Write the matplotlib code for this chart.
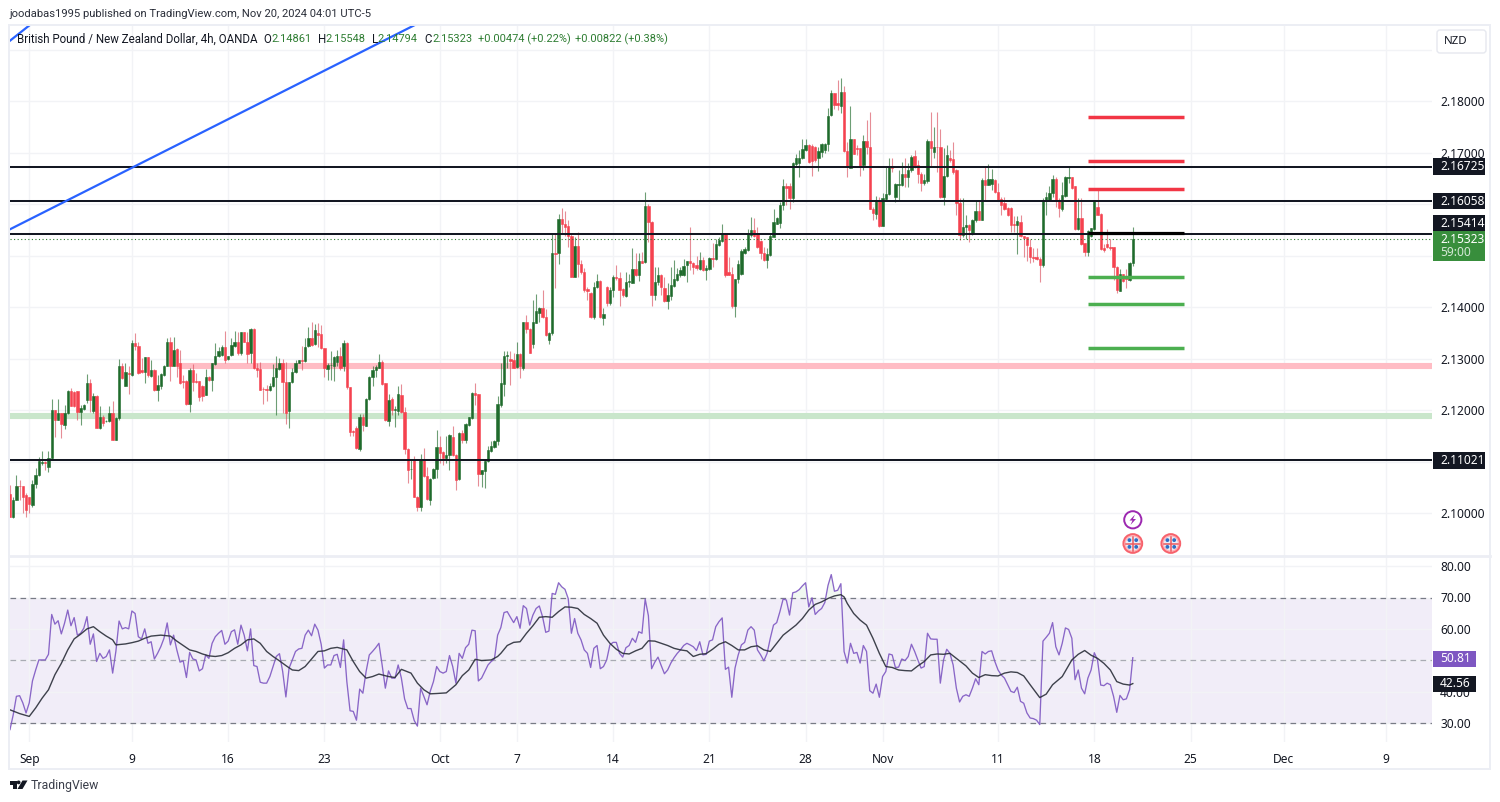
import numpy as np
import matplotlib
matplotlib.use('Agg')
import matplotlib.pyplot as plt
from matplotlib.patches import Rectangle, Circle, Polygon, FancyBboxPatch

plt.rcParams['font.family'] = ['Noto Sans', 'DejaVu Sans']
HEAD_FONT = ['Roboto', 'DejaVu Sans']

# candles: pips above 2.1000
opens_pips = [
37,-7,26,53,53,35,32,16,57,74,97,100,90,107,200,181,194,171,194,236,
235,236,197,202,220,252,199,228,166,187,178,178,194,142,184,285,247,272,268,330,
325,277,273,302,266,278,238,247,268,286,332,286,318,291,257,257,212,277,257,257,
247,230,264,259,290,304,307,323,299,307,325,332,310,351,333,310,358,281,279,241,
241,238,246,265,280,291,254,199,254,273,291,297,296,325,340,328,349,347,320,279,
287,286,294,305,285,331,244,160,166,124,186,169,221,264,277,282,294,252,179,221,
200,199,230,197,124,85,103,32,11,102,71,26,68,85,129,118,107,113,147,113,
66,155,142,171,184,233,231,76,81,101,121,129,139,210,251,304,299,297,283,309,
281,370,358,329,369,388,399,381,335,349,504,504,571,562,557,538,459,518,483,467,
434,428,381,439,451,378,439,408,433,459,456,434,421,449,447,473,462,490,488,596,
566,423,448,462,436,412,421,441,452,462,463,481,489,486,481,474,492,472,473,496,
494,520,529,542,467,464,401,454,464,505,511,540,549,544,529,504,492,501,536,562,
564,598,635,634,611,678,679,689,705,714,712,711,690,701,705,716,773,815,797,790,
818,703,669,727,708,708,676,723,710,591,580,606,558,609,619,672,613,637,637,658,
653,666,693,676,659,640,645,723,701,711,711,613,654,690,688,666,601,540,555,559,
542,568,587,569,647,637,639,647,624,609,601,592,592,561,559,565,537,535,517,497,
497,493,482,605,607,622,648,605,590,616,651,652,634,551,572,524,506,537,551,594,
581,514,522,517,516,478,432,464,459,453,486]
closes_pips = [
-7,26,52,52,32,5,18,57,74,101,100,97,107,200,181,194,173,194,236,208,
208,197,204,209,252,220,228,166,187,175,178,194,142,184,285,263,273,270,331,325,
272,273,302,268,278,238,249,270,286,332,285,317,285,252,254,212,278,255,254,226,
228,264,259,291,304,314,323,298,305,327,332,310,351,333,309,358,281,278,239,240,
239,247,265,281,291,254,195,255,274,291,297,296,323,340,327,356,346,320,281,287,
288,303,305,281,331,244,158,158,126,186,170,222,265,278,283,294,251,180,220,200,
201,231,197,124,84,85,32,11,102,71,27,66,86,129,116,107,113,152,113,64,
156,141,173,186,233,230,76,83,101,123,130,139,212,252,305,307,296,281,309,285,
370,357,310,370,393,399,381,346,350,504,503,571,562,556,538,459,518,483,467,433,
431,381,439,451,381,386,408,433,459,456,433,423,449,450,473,462,490,486,596,566,
423,448,462,439,412,423,443,454,464,472,480,489,486,478,475,492,472,475,496,494,
522,530,541,462,463,401,454,483,508,512,542,549,538,516,504,491,502,538,566,572,
599,634,632,611,679,689,690,706,714,682,684,685,703,716,716,771,815,792,792,818,
703,671,727,698,706,672,723,710,591,582,606,557,611,619,672,669,638,638,658,652,
666,692,672,659,641,646,723,708,711,710,613,654,695,685,663,601,540,555,559,549,
569,586,569,647,637,648,648,624,608,598,590,579,559,559,567,537,534,520,497,496,
493,482,608,613,622,648,605,592,618,653,653,632,551,572,522,506,548,553,605,579,
512,511,516,514,478,433,464,451,454,485,532]
highs_pips = [
55,32,74,64,53,39,32,65,87,109,121,101,120,222,200,221,195,210,238,243,
236,236,210,212,270,260,233,230,208,191,181,207,217,186,299,291,291,285,336,349,
333,301,303,303,297,279,268,272,288,340,342,342,320,317,268,259,281,290,272,257,
249,279,266,292,331,323,327,354,305,340,353,351,351,352,351,360,359,291,294,244,
249,252,290,305,301,299,294,255,281,297,298,325,340,361,370,367,369,365,320,291,
314,305,317,323,336,333,244,162,169,193,193,223,266,285,288,309,298,252,232,225,
207,247,250,206,126,103,110,33,115,126,90,68,87,162,149,120,149,153,168,114,
158,162,175,187,234,252,231,84,103,131,139,142,228,292,314,314,314,310,332,310,
371,385,359,414,425,400,433,397,352,543,543,580,592,587,569,543,535,545,491,475,
439,430,449,464,452,399,441,439,462,481,468,436,468,465,514,504,504,507,624,600,
567,478,478,464,458,446,478,491,475,478,494,490,556,488,499,507,498,481,498,524,
533,535,562,543,498,478,454,491,512,517,551,574,572,556,530,517,514,543,590,575,
604,648,640,640,682,697,705,727,727,716,716,712,711,718,718,786,821,816,841,844,
829,721,790,727,714,708,734,763,778,595,615,614,622,671,689,689,640,666,682,690,
679,695,705,685,663,658,727,779,749,779,745,708,714,705,721,667,611,611,579,561,
570,606,608,650,673,678,667,648,640,614,614,594,594,577,577,579,537,535,533,514,
514,498,611,624,634,656,653,611,643,654,674,653,635,612,611,525,550,554,606,627,
582,522,551,533,517,480,473,465,473,488,555]
lows_pips = [
-7,-10,26,26,0,-8,0,11,48,72,94,84,79,105,147,180,145,163,193,207,
205,181,171,200,213,197,194,165,163,169,176,176,141,141,181,260,246,231,266,317,
270,272,253,265,264,236,217,241,266,285,257,285,265,251,243,210,197,236,252,217,
217,229,257,236,288,303,305,291,298,305,323,307,307,332,291,291,279,265,238,212,
217,236,244,191,278,194,173,165,252,272,291,278,294,323,325,326,323,318,264,259,
259,257,285,278,275,241,149,149,125,121,160,168,220,247,265,281,249,178,169,191,
167,191,195,115,58,66,31,3,3,70,26,16,66,68,97,94,97,84,111,45,
65,136,136,169,182,210,53,50,48,100,119,127,132,206,228,281,249,281,281,262,
278,349,310,320,368,371,378,344,329,346,436,483,543,538,517,459,459,459,465,430,
413,378,376,436,378,365,401,404,419,452,401,420,420,439,446,460,451,485,486,527,
401,414,443,423,410,397,414,439,451,459,460,449,472,465,472,472,469,452,472,478,
492,518,527,459,462,399,380,446,462,503,509,536,535,514,494,489,475,500,536,561,
553,588,598,590,604,672,652,687,703,679,654,682,665,692,700,703,771,784,782,776,
701,653,669,697,695,654,666,698,590,569,570,556,557,608,617,663,604,608,635,633,
633,663,669,640,626,637,641,672,690,663,611,598,653,682,659,579,530,536,533,527,
540,566,568,568,605,637,627,622,607,579,588,577,546,546,503,535,498,490,485,488,
491,449,478,579,605,614,594,574,587,613,640,630,550,550,521,499,499,535,550,579,
511,506,514,511,453,427,431,449,436,451,479]

rsi_values = [
27.9,32.6,38.5,38.7,36.4,33.2,36.4,43.4,46.9,50.1,50.1,50.1,51.9,64.6,61.5,62.6,58.4,61.8,66.0,61.0,
63.6,58.0,58.6,60.2,63.9,55.1,58.4,49.6,52.2,50.6,51.2,53.3,45.9,52.8,62.5,60.0,60.4,60.0,65.7,64.9,
57.5,56.8,60.0,55.4,55.9,50.4,52.2,54.3,57.0,61.9,54.9,58.0,53.3,49.4,49.8,44.5,52.5,50.4,50.1,46.6,
47.3,51.7,50.6,55.4,57.5,58.6,59.5,55.1,56.1,59.1,59.7,55.1,61.2,58.0,53.0,60.0,48.3,48.0,43.0,42.7,
42.7,44.8,48.0,51.2,52.1,46.4,38.3,47.5,50.1,52.8,53.6,53.8,58.0,59.6,57.8,61.5,59.6,55.1,47.5,48.5,
48.5,51.5,51.9,47.7,56.5,43.2,33.9,33.7,30.9,40.8,39.5,46.4,51.7,52.8,54.0,55.4,48.5,41.1,46.6,44.3,
44.3,48.5,44.3,37.7,34.6,34.6,30.8,29.0,41.1,38.5,35.8,40.1,43.2,48.0,46.4,45.9,46.4,51.5,48.0,42.7,
52.2,50.6,54.0,55.1,59.6,59.4,43.4,44.3,46.4,48.5,49.6,50.4,58.0,60.4,65.2,65.5,63.7,62.0,63.9,60.2,
67.4,66.5,61.2,64.4,66.5,67.3,63.9,58.9,59.3,71.3,71.0,74.7,73.4,72.6,69.7,58.6,63.3,58.6,56.5,53.3,
52.2,47.7,53.8,54.7,47.3,48.0,50.1,54.9,55.7,55.7,52.2,51.0,54.0,54.7,57.0,55.7,59.1,58.6,69.5,64.2,
47.3,49.4,51.0,48.3,45.7,46.9,49.1,50.8,52.2,53.3,54.7,55.4,54.9,54.3,53.1,55.9,51.7,51.9,56.1,56.5,
60.7,62.3,63.5,47.1,47.8,38.2,47.5,51.7,54.9,55.7,59.6,60.7,59.6,53.3,51.7,49.8,52.2,57.0,61.2,62.0,
65.5,69.5,69.2,64.4,71.5,71.8,72.5,73.7,74.7,67.0,69.9,64.6,65.7,66.5,68.4,73.9,77.3,72.0,72.3,74.4,
52.8,49.1,55.4,52.2,52.5,49.1,54.7,52.8,40.3,39.5,42.4,38.2,44.8,46.4,52.0,51.7,47.7,47.8,50.4,49.9,
51.2,55.1,52.8,50.1,47.5,48.0,58.6,56.8,56.7,56.7,42.7,50.1,53.5,52.2,48.5,41.1,36.7,38.5,39.0,38.5,
41.1,44.1,42.2,52.8,52.0,52.8,53.0,49.6,46.9,45.3,44.3,42.2,40.1,39.7,41.4,36.9,36.3,33.2,31.6,31.4,
30.9,29.5,56.1,57.3,58.6,62.0,54.3,51.7,55.4,60.3,59.8,57.0,43.8,46.9,41.1,39.3,44.3,46.9,52.4,50.1,
42.1,41.9,42.7,42.2,38.5,33.4,38.8,37.4,37.7,40.6,50.81]

ma_bars = [0,3,6,8,10,12,14,16,18,20,22,24,26,28,30,32,33,36,38,40,42,44,47,50,52,54,56,58,60,62,64,66,68,70,72,74,76,78,80,82,84,86,88,90,92,94,96,98,100,102,105,107,109,111,113,115,118,120,122,125,127,129,131,133,136,139,141,143,145,147,150,152,153,
155,157,159,161,163,165,167,169,171,173,175,177,179,181,183,185,187,189,191,193,195,197,199,201,203,205,207,209,211,213,215,217,219,221,223,225,227,229,231,233,235,237,239,241,243,245,247,249,251,253,255,257,259,260,261,263,265,267,269,271,273,275,277,279,281,283,285,287,289,291,293,295,
298,300,302,304,306,308,310,312,314,316,318,320,321,323,325,328,331,333,335,337,339,341,343,345,347,349,350]
ma_values = [34.2,33.0,32.1,34.8,37.9,40.6,45.4,49.0,53.3,56.8,58.3,60.0,60.7,59.1,57.7,56.5,54.9,55.2,55.6,56.1,57.0,57.7,58.0,57.7,56.1,54.7,53.3,52.8,52.0,51.4,51.2,51.5,52.4,53.8,54.9,56.5,56.8,55.4,52.8,51.2,49.8,48.3,46.9,46.7,48.0,50.4,52.8,53.0,53.8,54.1,53.3,49.6,46.4,44.3,44.8,45.6,44.8,44.5,47.1,45.9,42.7,40.6,39.3,39.4,39.6,42.2,45.1,46.9,50.3,49.9,50.1,51.2,52.2,
54.7,55.7,55.9,58.6,61.0,63.7,63.9,63.7,65.5,67.0,66.9,66.5,64.6,63.3,61.8,58.0,55.4,53.5,52.2,52.0,53.0,53.8,56.2,56.1,55.4,54.7,53.8,53.3,53.0,51.2,51.9,52.1,53.5,55.1,55.9,54.7,53.3,53.3,54.3,54.6,53.3,52.8,55.4,58.0,59.6,61.2,63.3,66.0,67.8,68.6,69.7,70.5,70.9,70.2,68.1,64.9,62.8,61.2,57.0,52.2,48.0,47.7,46.9,46.7,46.6,48.2,49.6,51.7,52.0,51.9,52.2,50.6,
48.2,45.9,44.5,45.4,45.1,45.0,45.9,46.3,46.1,45.0,42.2,39.5,38.1,39.2,42.2,44.8,50.1,51.9,53.1,51.6,50.6,49.0,46.9,43.2,42.4,42.1,42.56]

time_tick_bars = [6,38,68,98,134,158,188,218,248,272,308,338,368,397,429]
time_tick_labels = ['Sep','9','16','23','Oct','7','14','21','28','Nov','11','18','25','Dec','9']
month_labels = {'Sep','Oct','Nov','Dec'}

price_ticks = [2.10,2.11,2.12,2.13,2.14,2.15,2.16,2.17,2.18,2.19]
price_labels = ['2.10000','','2.12000','2.13000','2.14000','','','2.17000','2.18000','']
level_prices = [2.16725,2.16058,2.15414,2.11021]
level_labels = ['2.16725','2.16058','2.15414','2.11021']
level_label_shift = [0,0,-11,0]
resistance_band = 2.12854
support_band = 2.11883
target_red = [2.1769,2.16835,2.16297]
target_green = [2.14588,2.14058,2.13198]
target_black = 2.15443
last_price = 2.15323
rsi_ticks = [30,40,50,60,70,80]
rsi_labels = ['30.00','40.00','','60.00','70.00','80.00']

INK = '#131722'
GRID = '#f2f3f6'
BORDER = '#eceef4'
UP = '#1f6b2c'
DOWN = '#f5424f'

o = 2.10 + np.array(opens_pips)/1e4
c = 2.10 + np.array(closes_pips)/1e4
h = 2.10 + np.array(highs_pips)/1e4
l = 2.10 + np.array(lows_pips)/1e4
rsi = np.array(rsi_values)
bars = np.arange(len(c))
assert len(o)==len(c)==len(h)==len(l)==len(rsi)==351 and len(ma_bars)==len(ma_values)

W, H = 1500, 802
fig = plt.figure(figsize=(W/100, H/100), dpi=100, facecolor='white')

def axes_px(x0, y0, x1, y1):
    return fig.add_axes([x0/W, 1-y1/H, (x1-x0)/W, (y1-y0)/H])

ax = axes_px(10, 25, 1432, 556)
ar = axes_px(10, 557, 1432, 742)
BAR_PX = 3.208
xlim = (0, 1422/BAR_PX)
for a in (ax, ar):
    a.set_xlim(*xlim)
    for s in a.spines.values():
        s.set_visible(False)
    a.set_axisbelow(True)
    a.set_xticks(time_tick_bars)
    a.grid(True, color=GRID, lw=1)
    a.yaxis.tick_right()

ax.set_ylim(2.18-455/5150, 2.18+76/5150)
ar.set_ylim(70-144.5/3.1375, 70+40.5/3.1375)
ax.set_yticks(price_ticks)
ax.set_yticklabels(price_labels)
ax.tick_params(axis='y', length=0, pad=5.8, labelsize=8.6, labelcolor=INK)
ax.tick_params(axis='x', length=0, labelbottom=False)
ar.set_yticks(rsi_ticks)
ar.set_yticklabels(rsi_labels)
ar.tick_params(axis='y', length=0, pad=5.8, labelsize=8.6, labelcolor=INK)
ar.set_xticklabels(time_tick_labels)
ar.tick_params(axis='x', length=0, pad=8, labelsize=8.6, labelcolor=INK)
for t in ar.get_xticklabels():
    if t.get_text() in month_labels:
        t.set_fontweight('bold')

# bands under candles
ax.axhline(resistance_band, xmin=(178-10)/1422, color='#ffbcc4', lw=4.4, zorder=1, solid_capstyle='butt')
ax.axhline(support_band, color='#c9e6cb', lw=4.4, zorder=1, solid_capstyle='butt')

# candles
up = c >= o
ax.vlines(bars[up], l[up], h[up], color=UP, lw=0.8, alpha=0.65, zorder=2)
ax.vlines(bars[~up], l[~up], h[~up], color='#d9505e', lw=0.8, alpha=0.65, zorder=2)
ax.bar(bars[up], (c-o)[up], bottom=o[up], width=0.74, color=UP, edgecolor=UP, lw=0.4, zorder=3)
ax.bar(bars[~up], (c-o)[~up], bottom=o[~up], width=0.74, color=DOWN, edgecolor=DOWN, lw=0.4, zorder=3)

# drawn levels
for p in level_prices:
    ax.axhline(p, color=INK, lw=1.45, zorder=5)
ax.axhline(last_price, color='#2e7d32', lw=0.8, ls=(0, (1, 2.2)), zorder=4)

seg = (336, 366)
for p in target_red:
    ax.hlines(p, *seg, color='#f23645', lw=2.5, zorder=6)
for p in target_green:
    ax.hlines(p, *seg, color='#4caf50', lw=2.5, zorder=6)
ax.hlines(target_black, *seg, color='#000000', lw=2.3, zorder=6)

# trend lines (bar index, price)
ax.plot([0, 126.2], [2.15509, 2.19476], color='#2962ff', lw=1.6, zorder=6)
ax.plot([0, 6.2], [2.19171, 2.19476], color='#2962ff', lw=1.6, zorder=6)

# RSI pane
ar.axhspan(30, 70, color='#7e57c2', alpha=0.1, lw=0, zorder=0.5)
for v, col in ((70, '#787b86'), (30, '#787b86'), (50, '#a9abb3')):
    ar.axhline(v, color=col, lw=0.9, ls=(0, (4.5, 3.5)), zorder=1.5)
ar.fill_between(bars, 70, rsi, where=rsi > 70, interpolate=True, color='#4caf50', alpha=0.08, lw=0)
ar.fill_between(bars, 30, rsi, where=rsi < 30, interpolate=True, color='#f23645', alpha=0.08, lw=0)
ar.plot(bars, rsi, color='#7e57c2', lw=0.95, alpha=0.9, zorder=3)
ar.plot(ma_bars, ma_values, color='#2a2e39', lw=1.0, alpha=0.9, zorder=4)

# overlay in pixel coordinates for the TradingView chrome
ov = fig.add_axes([0, 0, 1, 1], facecolor='none')
ov.set_xlim(0, W)
ov.set_ylim(H, 0)
ov.axis('off')

def box(x0, y0, x1, y1, col):
    ov.add_patch(Rectangle((x0, y0), x1-x0, y1-y0, fc=col, ec='none', zorder=10))

# frame
for (x0, y0, x1, y1) in [(9, 25, 1490, 25), (9, 25, 9, 769), (1490, 25, 1490, 769), (9, 769, 1490, 769)]:
    ov.plot([x0, x1], [y0, y1], color=BORDER, lw=1.4, zorder=9)
ov.plot([9, 1490], [556, 556], color=BORDER, lw=2, zorder=9)

ov.text(9.5, 14, 'joodabas1995 published on TradingView.com, Nov 20, 2024 04:01 UTC-5',
        fontsize=8.15, color='#2a2e39', va='center', ha='left', family=HEAD_FONT)

# legend row
LF = 8.3
LV = 7.9
ov.text(17, 39.5, 'British Pound / New Zealand Dollar, 4h, OANDA', fontsize=LF, color=INK, va='center', family=HEAD_FONT)
LEG_G = '#2e7d32'
for x, lab, vx, val in [(263, 'O', 271, '2.14861'), (318, 'H', 325, '2.15548'), (372, 'L', 377.5, '2.14794'), (424, 'C', 432, '2.15323')]:
    ov.text(x, 39.5, lab, fontsize=LF, color=INK, va='center', family=HEAD_FONT)
    ov.text(vx, 39.5, val, fontsize=LV, color=LEG_G, va='center', family=HEAD_FONT)
ov.text(478, 39.5, '+0.00474 (+0.22%)', fontsize=LV, color=LEG_G, va='center', family=HEAD_FONT)
ov.text(575, 39.5, '+0.00822 (+0.38%)', fontsize=LV, color=LEG_G, va='center', family=HEAD_FONT)

# price labels
def px_of_price(p):
    return 101 + (2.18-p)*5150
for p, s, dy in zip(level_prices, level_labels, level_label_shift):
    y = px_of_price(p) + dy
    box(1433, y-8.3, 1485, y+8.3, INK)
    ov.text(1440, y, s, fontsize=8.6, color='white', va='center', zorder=11)
box(1433, 231, 1485, 261, '#388e3c')
ov.text(1440, 239.5, '2.15323', fontsize=8.6, color='white', va='center', zorder=11)
ov.text(1440, 253, '59:00', fontsize=8.6, color='#d5e8d6', va='center', zorder=11)

# NZD button
ov.add_patch(FancyBboxPatch((1437, 30), 49, 23, boxstyle='round,pad=0,rounding_size=3', fc='white', ec='#e6e8ef', lw=1, zorder=10))
ov.text(1444, 42, 'NZD', fontsize=8.3, color=INK, va='center', zorder=11)

# RSI labels
box(1433, 650.5, 1476, 666.5, '#7e57c2')
ov.text(1440, 658.5, '50.81', fontsize=8.6, color='white', va='center', zorder=11)
box(1433, 675.5, 1476, 691.5, INK)
ov.text(1440, 683.5, '42.56', fontsize=8.6, color='white', va='center', zorder=11)

# event icons
ov.add_patch(Circle((1132.8, 519.8), 8.6, fc='white', ec='#9c27b0', lw=1.4, zorder=10))
ov.add_patch(Polygon([(1135, 514.5), (1129.5, 520.5), (1132.5, 520.5), (1130.5, 525), (1136, 519), (1133, 519)], fc='#9c27b0', ec='none', zorder=11))
for cx in (1132.8, 1170.8):
    cy = 543.5
    ov.add_patch(Circle((cx, cy), 9.4, fc='#ffb3b8', ec='#f7626c', lw=1.4, zorder=10))
    ov.add_patch(Circle((cx, cy), 7, fc='#e8eef8', ec='none', zorder=11))
    for dx, dy in [(-3.4, -3.4), (3.4, -3.4), (-3.4, 3.4), (3.4, 3.4)]:
        ov.add_patch(Circle((cx+dx, cy+dy), 1.9, fc='#2f6fc4', ec='none', zorder=12))
    ov.plot([cx-7, cx+7], [cy, cy], color='#ec5a5f', lw=1.1, zorder=13)
    ov.plot([cx, cx], [cy-7, cy+7], color='#ec5a5f', lw=1.1, zorder=13)

# TradingView logo
ov.add_patch(Polygon([(9.5, 780.5), (16.5, 780.5), (16.5, 789), (12.5, 789), (12.5, 784.5), (9.5, 784.5)], fc=INK, ec='none'))
ov.add_patch(Circle((18.6, 782.4), 1.9, fc=INK, ec='none'))
ov.add_patch(Polygon([(22.5, 780.5), (27.5, 780.5), (22.5, 789), (17.5, 789)], fc=INK, ec='none'))
ov.text(31, 785, 'TradingView', fontsize=8.8, color='#3a3e4a', va='center', family=HEAD_FONT)

fig.savefig('out.png', dpi=100, facecolor='white')
